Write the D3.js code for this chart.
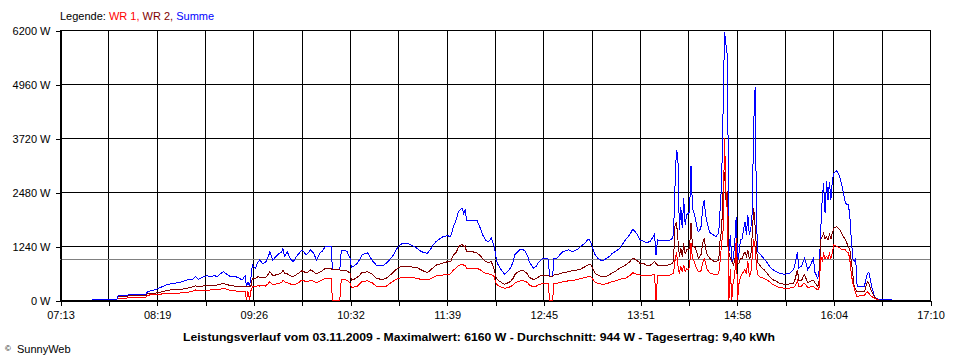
<!DOCTYPE html>
<html><head><meta charset="utf-8">
<script src="https://cdn.jsdelivr.net/npm/d3@7"></script>
<style>
body{margin:0;background:#fff;}
svg{display:block;}
text{font-family:"Liberation Sans",Arial,sans-serif;}
</style>
</head><body>
<svg id="c" width="960" height="360"></svg>
<script>
// ---- data ----
const times = [
"07:35","07:52","07:53","07:59","08:00","08:12","08:13","08:19","08:22","08:26",
"08:30","08:35","08:40","08:44","08:46","08:48","08:51","08:54","08:56","08:59",
"09:01","09:03","09:05","09:08","09:10","09:13","09:16","09:18","09:20","09:21",
"09:22","09:23","09:24","09:25","09:27","09:29","09:30","09:32","09:34","09:36",
"09:37","09:39","09:43","09:45","09:46","09:47","09:49","09:51","09:53","09:56",
"09:59","10:02","10:05","10:07","10:09","10:11","10:13","10:15","10:19","10:20",
"10:25","10:26","10:28","10:30","10:32","10:33","10:35","10:37","10:39","10:40",
"10:44","10:47","10:50","10:54","10:57","11:01","11:05","11:08","11:12","11:14",
"11:18","11:21","11:25","11:27","11:29","11:31","11:34","11:36","11:39","11:41",
"11:43","11:45","11:46","11:47","11:49","11:50","11:51","11:52","11:56","11:59",
"12:01","12:03","12:05","12:07","12:08","12:09","12:11","12:12","12:13","12:15",
"12:18","12:20","12:22","12:24","12:25","12:27","12:29","12:31","12:32","12:34",
"12:35","12:38","12:40","12:41","12:43","12:44","12:46","12:48","12:49","12:51",
"12:52","12:54","12:56","12:58","13:02","13:05","13:08","13:10","13:13","13:15",
"13:16","13:17","13:19","13:20","13:22","13:25","13:28","13:30","13:32","13:35",
"13:37","13:41","13:44","13:46","13:48","13:50","13:51","13:54","13:56","13:58",
"14:00","14:01","14:02","14:03","14:07","14:10","14:12","14:13","14:14","14:15",
"14:16","14:17","14:18","14:19","14:20","14:21","14:22","14:23","14:24","14:25",
"14:26","14:27","14:28","14:29","14:30","14:31","14:32","14:33","14:34","14:35",
"14:36","14:37","14:38","14:39","14:41","14:43","14:45","14:46","14:47","14:48",
"14:49","14:50","14:51","14:52","14:53","14:54","14:55","14:56","14:57","14:58",
"14:59","15:00","15:01","15:02","15:03","15:04","15:05","15:06","15:07","15:08",
"15:09","15:10","15:11","15:12","15:14","15:16","15:18","15:20","15:22","15:25",
"15:27","15:30","15:32","15:34","15:36","15:37","15:39","15:40","15:42","15:43",
"15:44","15:46","15:48","15:50","15:51","15:53","15:54","15:55","15:56","15:57",
"15:58","15:59","16:00","16:01","16:02","16:03","16:04","16:06","16:08","16:10",
"16:12","16:13","16:14","16:15","16:16","16:17","16:18","16:19","16:20","16:22",
"16:25","16:27","16:28","16:30","16:32","16:34","16:35","16:44"
];
const wr1 = [
null,null,45,45,60,60,110,130,135,150,
155,160,176,200,230,210,215,225,230,235,
235,250,268,240,215,210,200,195,200,0,
195,0,210,300,306,330,320,325,320,380,
421,350,380,400,459,420,400,370,344,380,
459,420,450,430,400,430,459,497,497,0,
0,470,470,450,400,291,300,320,380,421,
440,400,321,300,321,420,497,520,520,520,
497,470,459,480,520,550,574,574,590,600,
689,740,780,800,827,800,800,727,727,727,
700,650,612,600,580,590,535,398,350,306,
268,280,306,344,383,420,443,443,430,400,
344,300,320,340,370,383,383,383,0,0,
383,383,400,420,440,450,470,497,510,535,
540,545,460,420,383,360,370,400,420,450,
475,500,560,627,600,580,574,574,551,560,
580,574,0,560,560,560,580,600,620,900,
1100,800,600,780,650,800,650,720,700,750,
1300,957,900,800,720,650,650,680,850,957,
850,700,660,620,600,580,600,900,1300,1600,
3713,2500,2000,0,700,0,450,500,1420,0,
400,520,600,650,700,600,900,550,600,1000,
1400,1200,750,560,520,497,460,421,360,306,
290,268,268,275,285,300,440,320,320,380,
380,290,300,310,280,230,300,1000,900,1050,
950,1000,950,1060,950,1100,1263,1230,1200,1150,
1148,1100,1100,920,600,383,290,150,76,100,
110,190,150,80,40,10,0,null
];
const wr2 = [
null,null,80,80,100,100,150,160,180,214,
240,240,268,300,330,300,320,330,330,340,
344,360,383,350,330,320,305,300,305,300,
300,310,320,490,497,540,520,520,510,600,
650,560,590,630,689,620,600,560,535,600,
673,620,689,650,600,640,673,727,727,689,
689,680,690,670,620,459,480,520,580,627,
650,600,497,470,500,612,742,780,770,760,
742,689,627,680,742,800,827,850,880,880,
1033,1100,1186,1240,1278,1230,1240,1109,1109,1080,
1033,950,880,860,870,880,689,535,470,421,
360,390,421,500,574,640,673,673,650,590,
520,470,490,520,560,574,574,570,540,540,
574,580,600,627,650,680,690,704,760,803,
810,820,689,620,574,535,545,580,620,680,
727,803,880,957,930,880,842,830,780,800,
850,880,840,803,800,803,820,842,900,1700,
1800,1400,1000,1200,1000,1300,1050,1150,1150,1200,
1761,1250,1230,1200,1100,957,1000,1050,1300,1416,
1200,1050,1000,950,900,880,910,1400,1600,2487,
2946,2300,2500,1100,950,900,800,900,1200,840,
850,950,950,1050,1100,1000,1150,950,1000,1500,
2105,1700,1150,850,760,700,620,535,470,421,
383,360,360,370,383,420,689,450,459,540,
574,400,430,450,400,306,450,1378,1450,1531,
1400,1450,1380,1500,1400,1550,1646,1683,1620,1492,
1380,1300,1224,1150,900,612,306,250,191,191,
191,421,380,191,60,15,0,null
];
const summe = [
15,15,95,100,130,130,190,240,290,344,
380,400,459,480,535,475,530,560,535,560,
535,600,650,580,535,545,500,459,560,300,
421,310,500,803,727,880,918,842,860,1000,
1109,918,1056,1100,1186,995,1100,950,880,1033,
1148,1040,1148,1080,918,1060,1125,1224,1224,689,
689,1140,1148,1110,957,750,790,842,950,1033,
1086,918,803,780,842,995,1224,1301,1290,1263,
1186,1109,1071,1150,1263,1340,1416,1460,1477,1450,
1683,1850,1990,2060,2105,1990,2080,1837,1837,1837,
1683,1500,1378,1340,1380,1416,1224,1033,850,727,
597,650,727,880,1033,1110,1163,1150,1125,1000,
880,727,780,842,920,957,957,940,540,540,
957,960,1040,1109,1150,1110,1160,1224,1300,1378,
1400,1340,1148,1050,957,895,957,1000,1071,1130,
1186,1378,1500,1623,1560,1450,1378,1340,1316,1350,
1450,1508,1033,1378,1360,1360,1380,1416,1500,2600,
3444,3300,1607,2142,1650,2335,1722,1952,1990,2027,
3084,2105,2000,1875,1700,1568,1600,1700,2100,2296,
1950,1798,1650,1550,1500,1454,1530,2100,2679,4324,
6160,5855,5587,1100,1500,900,957,1300,1913,842,
1100,1378,1400,1600,1798,1500,1952,1500,1620,2000,
4018,4898,1700,1100,1030,950,870,765,700,640,
612,590,600,620,689,750,1109,740,780,880,
957,700,800,957,640,497,700,1607,2300,2679,
1990,2740,2300,2720,2296,2755,2909,2969,2832,2563,
2220,2200,2200,1913,1400,957,880,957,306,306,
320,612,640,306,76,20,10,10
];
const seriesNames = ["WR 1", "WR 2", "Summe"];
const yTickValues = [0, 1240, 2480, 3720, 4960, 6200];
const xTickLabels = ["07:13","08:19","09:26","10:32","11:39","12:45","13:51","14:58","16:04","17:10"];
const averageW = 944;
const titleText = "Leistungsverlauf vom 03.11.2009 - Maximalwert: 6160 W - Durchschnitt: 944 W - Tagesertrag: 9,40 kWh";

// ---- drawing ----
const colors = {"WR 1":"#ff0000","WR 2":"#800000","Summe":"#0000ff"};
const toMin = s => { const [h,m] = s.split(":").map(Number); return h*60+m; };
const tStart = toMin(xTickLabels[0]), tEnd = toMin(xTickLabels[xTickLabels.length-1]);
const L = 60, R = 930, T = 30, B = 300;
const x = d3.scaleLinear().domain([tStart, tEnd]).range([L, R]);
const y = d3.scaleLinear().domain([0, 6200]).range([B, T]);
const svg = d3.select("#c");

const nMajor = xTickLabels.length - 1;
const xTickVals = d3.range(nMajor*2+1).map(i => tStart + i*(tEnd - tStart)/(nMajor*2));

// grid
const grid = svg.append("g").attr("shape-rendering","crispEdges").attr("stroke","#000").attr("stroke-width",1);
grid.selectAll("line.v").data(xTickVals).join("line").attr("class","v")
  .attr("x1", d => Math.round(x(d))+0.5).attr("x2", d => Math.round(x(d))+0.5)
  .attr("y1", T).attr("y2", B);
grid.selectAll("line.h").data(yTickValues).join("line").attr("class","h")
  .attr("x1", L).attr("x2", R+1)
  .attr("y1", d => Math.round(y(d))+0.5).attr("y2", d => Math.round(y(d))+0.5);

// average line
svg.append("line").attr("shape-rendering","crispEdges")
  .attr("x1", L).attr("x2", R)
  .attr("y1", Math.round(y(averageW))+0.5).attr("y2", Math.round(y(averageW))+0.5)
  .attr("stroke","#808080").attr("stroke-width",1);

// axes
const yAxis = d3.axisLeft(y).tickValues(yTickValues).tickSize(5).tickSizeOuter(0).tickPadding(5)
  .tickFormat(d => d + " W");
const gy = svg.append("g").attr("transform",`translate(${L+0.5},0.5)`).call(yAxis);
const xAxis = d3.axisBottom(x).tickValues(xTickVals).tickSize(5).tickSizeOuter(0).tickPadding(6)
  .tickFormat((d,i) => i % 2 === 0 ? xTickLabels[i/2] : "");
const gx = svg.append("g").attr("transform",`translate(0.5,${B+0.5})`).call(xAxis);
[gx, gy].forEach(g => {
  g.attr("shape-rendering","crispEdges");
  g.selectAll("path,line").attr("stroke","#000");
  g.selectAll("text").attr("fill","#000").style("font-size","11px").style("font-family","'Liberation Sans',Arial,sans-serif");
});

// series lines
const seriesData = {
  "WR 1": times.map((t,i) => ({t: toMin(t), v: wr1[i]})),
  "WR 2": times.map((t,i) => ({t: toMin(t), v: wr2[i]})),
  "Summe": times.map((t,i) => ({t: toMin(t), v: summe[i]}))
};
const line = d3.line().defined(d => d.v != null).x(d => x(d.t)).y(d => y(d.v));
["Summe","WR 2","WR 1"].forEach(name => {
  svg.append("path").datum(seriesData[name])
    .attr("d", line).attr("fill","none")
    .attr("stroke", colors[name]).attr("stroke-width",1)
    .attr("shape-rendering","crispEdges")
    .attr("stroke-linejoin","miter");
});

// legend
const leg = svg.append("text").attr("x", 60).attr("y", 20).style("font-size","11px");
leg.append("tspan").attr("fill","#000").text("Legende: ");
seriesNames.forEach((n,i) => {
  leg.append("tspan").attr("fill", colors[n]).text(n + (i < seriesNames.length-1 ? ", " : ""));
});

// title
svg.append("text").attr("x", 479).attr("y", 341).attr("text-anchor","middle")
  .style("font-size","11px").style("font-weight","bold").attr("fill","#000")
  .attr("textLength", 592).attr("lengthAdjust","spacingAndGlyphs")
  .text(titleText);

// copyright
svg.append("text").attr("x", 5).attr("y", 351).style("font-size","8px").attr("fill","#000").text("©");
svg.append("text").attr("x", 17).attr("y", 353).style("font-size","11px").attr("fill","#000").text("SunnyWeb");
</script>
</body></html>
